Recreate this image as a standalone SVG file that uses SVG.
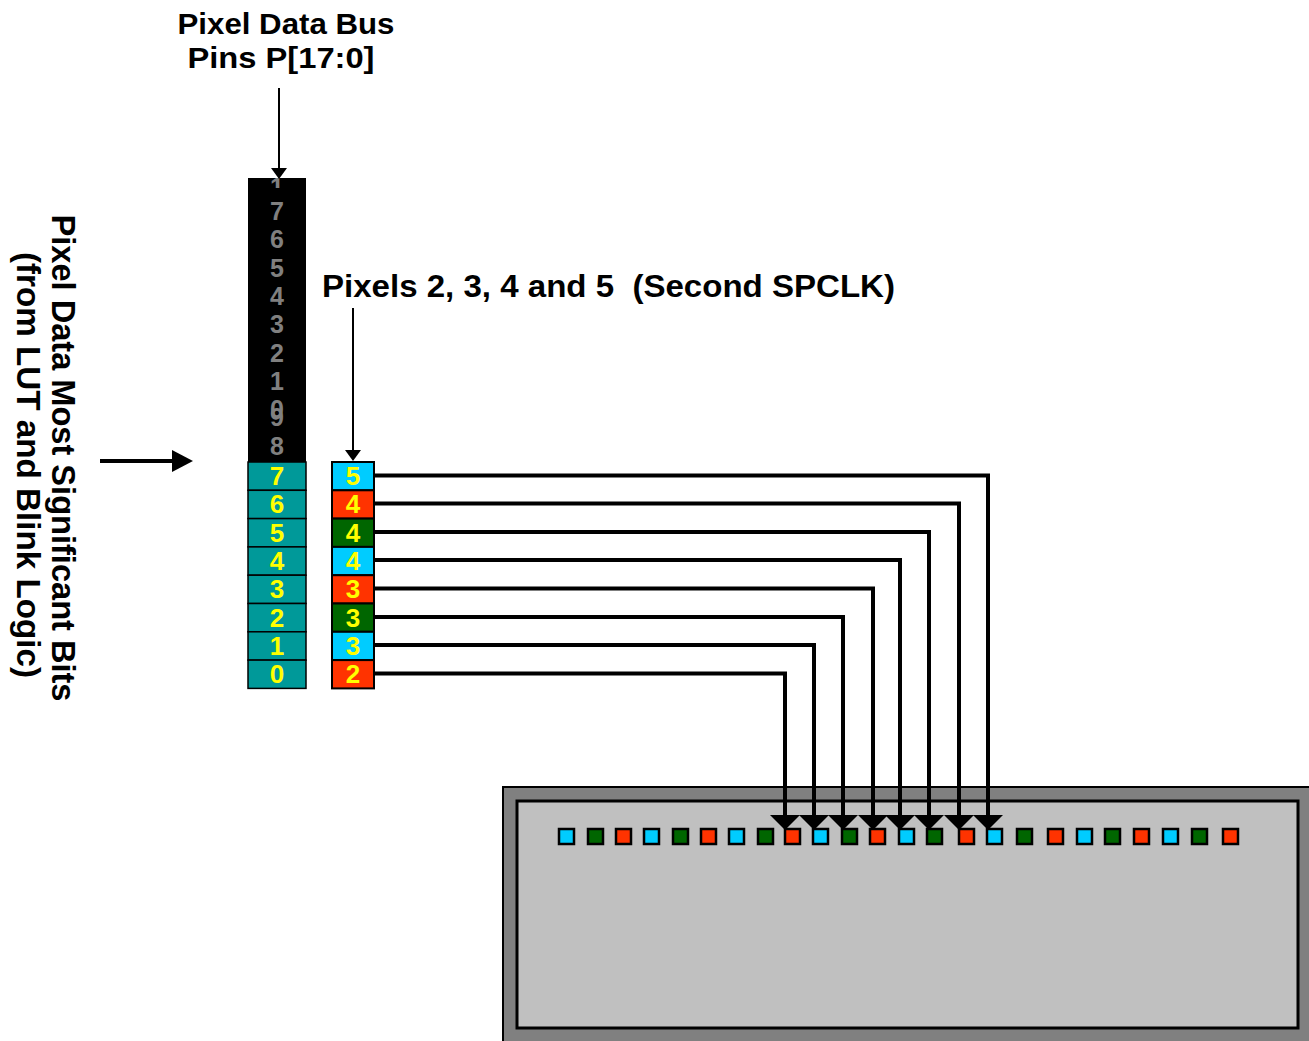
<svg xmlns="http://www.w3.org/2000/svg" width="1309" height="1041" viewBox="0 0 1309 1041">
<style>
text{font-family:"Liberation Sans",Arial,sans-serif;font-weight:bold}
.lbl{fill:#000}
.g{fill:#808080;font-size:25px;text-anchor:middle}
.y{fill:#FFFF00;font-size:26px;text-anchor:middle}
.teal{fill:#009999;stroke:#000;stroke-width:1.5}
.pc{stroke:#000;stroke-width:2}
.cy{fill:#00CCFF}.rd{fill:#FF3300}.gn{fill:#006600}
.sq{stroke:#000;stroke-width:2.5}
.conn{fill:none;stroke:#000;stroke-width:4;stroke-linejoin:miter}
</style>
<defs>
<marker id="bigHead" markerUnits="userSpaceOnUse" markerWidth="15" markerHeight="30" viewBox="0 0 15 30" refX="0" refY="15" orient="auto"><path d="M0,0 L15,15 L0,30 Z" fill="#000"/></marker>
<marker id="smallHead" markerUnits="userSpaceOnUse" markerWidth="11" markerHeight="16" viewBox="0 0 11 16" refX="0" refY="8" orient="auto"><path d="M0,0 L11,8 L0,16 Z" fill="#000"/></marker>
<marker id="sideHead" markerUnits="userSpaceOnUse" markerWidth="21" markerHeight="22" viewBox="0 0 21 22" refX="0" refY="11" orient="auto"><path d="M0,0 L21,11 L0,22 Z" fill="#000"/></marker>
<clipPath id="topClip"><rect x="260" y="178" width="40" height="10"/></clipPath>
</defs>

<g id="title-bus">
<text class="lbl" x="286" y="34" font-size="29" text-anchor="middle" textLength="217" lengthAdjust="spacingAndGlyphs">Pixel Data Bus</text>
<text class="lbl" x="281" y="68" font-size="29" text-anchor="middle" textLength="187" lengthAdjust="spacingAndGlyphs">Pins P[17:0]</text>
</g>

<g id="title-pixels">
<text class="lbl" x="322" y="297" font-size="31" textLength="573" lengthAdjust="spacingAndGlyphs" xml:space="preserve">Pixels 2, 3, 4 and 5  (Second SPCLK)</text>
</g>

<g id="title-msb" transform="translate(51.5,458) rotate(90)">
<text class="lbl" x="0" y="0" font-size="33" text-anchor="middle" textLength="487" lengthAdjust="spacingAndGlyphs">Pixel Data Most Significant Bits</text>
<text class="lbl" x="7" y="34.5" font-size="33" text-anchor="middle" textLength="426" lengthAdjust="spacingAndGlyphs">(from LUT and Blink Logic)</text>
</g>

<g id="bus-upper">
<rect x="248" y="178" width="58" height="284" fill="#000"/>
<text class="g" x="277" y="196" clip-path="url(#topClip)">1</text>
<text class="g" x="277" y="220">7</text>
<text class="g" x="277" y="248">6</text>
<text class="g" x="277" y="277">5</text>
<text class="g" x="277" y="305">4</text>
<text class="g" x="277" y="333">3</text>
<text class="g" x="277" y="362">2</text>
<text class="g" x="277" y="390">1</text>
<text class="g" x="277" y="418">0</text>
<text class="g" x="277" y="426">9</text>
<text class="g" x="277" y="455">8</text>
</g>

<g id="bus-lower">
<rect class="teal" x="248" y="462" width="58" height="28.3"/>
<rect class="teal" x="248" y="490.3" width="58" height="28.3"/>
<rect class="teal" x="248" y="518.6" width="58" height="28.3"/>
<rect class="teal" x="248" y="546.9" width="58" height="28.3"/>
<rect class="teal" x="248" y="575.2" width="58" height="28.3"/>
<rect class="teal" x="248" y="603.5" width="58" height="28.3"/>
<rect class="teal" x="248" y="631.8" width="58" height="28.3"/>
<rect class="teal" x="248" y="660.1" width="58" height="28.3"/>
<text class="y" x="277" y="485">7</text>
<text class="y" x="277" y="513">6</text>
<text class="y" x="277" y="542">5</text>
<text class="y" x="277" y="570">4</text>
<text class="y" x="277" y="598">3</text>
<text class="y" x="277" y="627">2</text>
<text class="y" x="277" y="655">1</text>
<text class="y" x="277" y="683">0</text>
</g>

<g id="pixel-column">
<rect class="pc cy" x="332" y="462" width="42" height="28.3"/>
<rect class="pc rd" x="332" y="490.3" width="42" height="28.3"/>
<rect class="pc gn" x="332" y="518.6" width="42" height="28.3"/>
<rect class="pc cy" x="332" y="546.9" width="42" height="28.3"/>
<rect class="pc rd" x="332" y="575.2" width="42" height="28.3"/>
<rect class="pc gn" x="332" y="603.5" width="42" height="28.3"/>
<rect class="pc cy" x="332" y="631.8" width="42" height="28.3"/>
<rect class="pc rd" x="332" y="660.1" width="42" height="28.3"/>
<text class="y" x="353" y="485">5</text>
<text class="y" x="353" y="513">4</text>
<text class="y" x="353" y="542">4</text>
<text class="y" x="353" y="570">4</text>
<text class="y" x="353" y="598">3</text>
<text class="y" x="353" y="627">3</text>
<text class="y" x="353" y="655">3</text>
<text class="y" x="353" y="683">2</text>
</g>

<g id="display">
<rect x="503" y="787" width="810" height="260" fill="#808080" stroke="#000" stroke-width="2"/>
<rect x="517" y="801" width="781" height="227" fill="#C0C0C0" stroke="#000" stroke-width="3"/>
<rect class="sq cy" x="559" y="829" width="15" height="15"/>
<rect class="sq gn" x="588" y="829" width="15" height="15"/>
<rect class="sq rd" x="616" y="829" width="15" height="15"/>
<rect class="sq cy" x="644" y="829" width="15" height="15"/>
<rect class="sq gn" x="673" y="829" width="15" height="15"/>
<rect class="sq rd" x="701" y="829" width="15" height="15"/>
<rect class="sq cy" x="729" y="829" width="15" height="15"/>
<rect class="sq gn" x="758" y="829" width="15" height="15"/>
<rect class="sq rd" x="785" y="829" width="15" height="15"/>
<rect class="sq cy" x="813" y="829" width="15" height="15"/>
<rect class="sq gn" x="842" y="829" width="15" height="15"/>
<rect class="sq rd" x="870" y="829" width="15" height="15"/>
<rect class="sq cy" x="899" y="829" width="15" height="15"/>
<rect class="sq gn" x="927" y="829" width="15" height="15"/>
<rect class="sq rd" x="959" y="829" width="15" height="15"/>
<rect class="sq cy" x="987" y="829" width="15" height="15"/>
<rect class="sq gn" x="1017" y="829" width="15" height="15"/>
<rect class="sq rd" x="1048" y="829" width="15" height="15"/>
<rect class="sq cy" x="1077" y="829" width="15" height="15"/>
<rect class="sq gn" x="1105" y="829" width="15" height="15"/>
<rect class="sq rd" x="1134" y="829" width="15" height="15"/>
<rect class="sq cy" x="1163" y="829" width="15" height="15"/>
<rect class="sq gn" x="1192" y="829" width="15" height="15"/>
<rect class="sq rd" x="1223" y="829" width="15" height="15"/>
</g>

<g id="connectors">
<path d="M279,88 V168" fill="none" stroke="#000" stroke-width="2" marker-end="url(#smallHead)"/>
<path d="M353,308 V450" fill="none" stroke="#000" stroke-width="2" marker-end="url(#smallHead)"/>
<path d="M100,461 H172" fill="none" stroke="#000" stroke-width="4" marker-end="url(#sideHead)"/>
<path class="conn" d="M374,475.5 H988 V815" marker-end="url(#bigHead)"/>
<path class="conn" d="M374,503.5 H959 V815" marker-end="url(#bigHead)"/>
<path class="conn" d="M374,532 H929 V815" marker-end="url(#bigHead)"/>
<path class="conn" d="M374,560 H900 V815" marker-end="url(#bigHead)"/>
<path class="conn" d="M374,588.5 H873 V815" marker-end="url(#bigHead)"/>
<path class="conn" d="M374,617 H843 V815" marker-end="url(#bigHead)"/>
<path class="conn" d="M374,645 H814 V815" marker-end="url(#bigHead)"/>
<path class="conn" d="M374,673.5 H785 V815" marker-end="url(#bigHead)"/>
</g>
</svg>
